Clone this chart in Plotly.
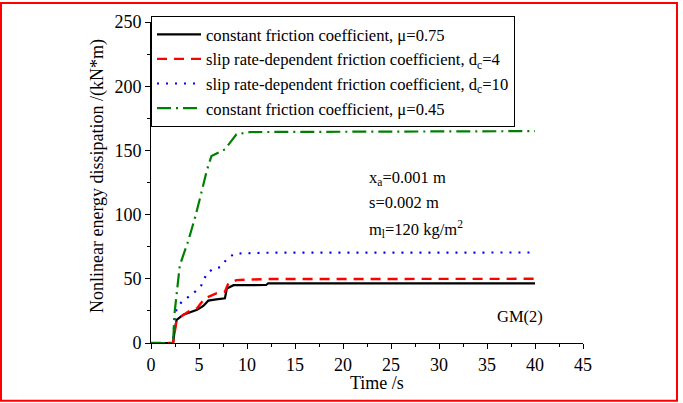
import plotly.graph_objects as go

# --- data ---
t_mu075 = [0, 2.3, 2.5, 2.67, 3.37, 3.9, 4.8, 5.45, 5.97, 6.8, 7.7, 7.9, 8.6, 12.0, 12.2, 40]
e_mu075 = [0, 0, 11.6, 18, 22, 23.2, 25.8, 28.9, 33, 34, 34.8, 42.5, 45, 45.2, 46.5, 46.5]

t_dc4 = [0, 2.3, 2.67, 3.0, 3.9, 4.8, 5.6, 6.8, 7.7, 8.05, 8.9, 12, 40]
e_dc4 = [0, 0, 18, 20, 24.5, 27, 34.8, 38.7, 40, 46.4, 49, 49.8, 50]

t_dc10 = [0, 2.3, 2.45, 2.67, 3.2, 3.9, 4.6, 5.25, 5.8, 6.5, 7.2, 7.95, 8.7, 12, 40]
e_dc10 = [0, 0, 18, 27, 32, 36, 40, 45, 54, 58, 59, 65.7, 69.6, 70.3, 70.5]

t_mu045 = [0, 2.3, 2.45, 2.67, 3.0, 3.9, 4.6, 5.3, 5.8, 6.3, 7.7, 8.9, 10.3, 40]
e_mu045 = [0, 0, 23, 40, 60.5, 80, 98, 118.6, 134, 145.7, 150.8, 162.5, 164.3, 165]

names = [
    "constant friction coefficient, \u03bc=0.75",
    "slip rate-dependent friction coefficient, d<sub>c</sub>=4",
    "slip rate-dependent friction coefficient, d<sub>c</sub>=10",
    "constant friction coefficient, \u03bc=0.45",
]

FONT = "Liberation Serif"

fig = go.Figure()
fig.add_trace(go.Scatter(x=t_mu075, y=e_mu075, mode="lines", name=names[0],
                         line=dict(color="black", width=2.2)))
fig.add_trace(go.Scatter(x=t_dc4, y=e_dc4, mode="lines", name=names[1],
                         line=dict(color="#ff0000", width=2.4, dash="10px,7px")))
fig.add_trace(go.Scatter(x=t_dc10, y=e_dc10, mode="lines", name=names[2],
                         line=dict(color="#0000ff", width=2.2, dash="2px,7px")))
fig.add_trace(go.Scatter(x=t_mu045, y=e_mu045, mode="lines", name=names[3],
                         line=dict(color="#008000", width=2.2, dash="14px,5px,2px,5px")))

L, R, T, B = 151, 100, 20, 60
W, H = 683, 403
pw, ph = W - L - R, H - T - B

def px2paper_x(px):
    return (px - L) / pw

def px2paper_y(py):
    return (H - B - py) / ph

fig.add_shape(type="rect", xref="paper", yref="paper",
              x0=px2paper_x(1), x1=px2paper_x(677), y0=px2paper_y(401), y1=px2paper_y(1),
              line=dict(color="#ff0000", width=2), fillcolor="rgba(0,0,0,0)", layer="above")

ann_font = dict(family=FONT, size=16.5, color="black")
fig.add_annotation(x=22.5, y=128.6, xref="x", yref="y", xanchor="left", yanchor="middle",
                   text="x<sub>a</sub>=0.001 m", showarrow=False, font=ann_font)
fig.add_annotation(x=22.5, y=109.5, xref="x", yref="y", xanchor="left", yanchor="middle",
                   text="s=0.002 m", showarrow=False, font=ann_font)
fig.add_annotation(x=22.5, y=89, xref="x", yref="y", xanchor="left", yanchor="middle",
                   text="m<sub>l</sub>=120 kg/m<sup>2</sup>", showarrow=False, font=ann_font)
fig.add_annotation(x=38.4, y=21, xref="x", yref="y", xanchor="center", yanchor="middle",
                   text="GM(2)", showarrow=False, font=ann_font)

# axis titles placed as annotations to match the reference offsets
fig.add_annotation(x=px2paper_x(377), y=px2paper_y(383), xref="paper", yref="paper",
                   xanchor="center", yanchor="middle", text="Time /s", showarrow=False,
                   font=dict(family=FONT, size=18, color="black"))
fig.add_annotation(x=px2paper_x(97), y=px2paper_y(175), xref="paper", yref="paper",
                   xanchor="center", yanchor="middle", textangle=-90,
                   text="Nonlinear energy dissipation /(kN*m)", showarrow=False,
                   font=dict(family=FONT, size=18, color="black"))

axis_common = dict(showline=True, linecolor="black", linewidth=1, mirror=False,
                   ticks="outside", ticklen=5, tickwidth=1, tickcolor="black",
                   showgrid=False, zeroline=False,
                   tickfont=dict(family=FONT, size=18, color="black"))

fig.update_xaxes(range=[0, 45], dtick=5, tick0=0,
                 minor=dict(dtick=2.5, ticks="outside", ticklen=3, tickcolor="black"),
                 **axis_common)
fig.update_yaxes(range=[0, 250], dtick=50, tick0=0,
                 minor=dict(dtick=25, ticks="outside", ticklen=3, tickcolor="black"),
                 **axis_common)

fig.update_layout(
    width=W, height=H,
    margin=dict(l=L, r=R, t=T, b=B),
    paper_bgcolor="white", plot_bgcolor="white",
    font=dict(family=FONT, color="black"),
    legend=dict(x=0, y=1 + 6 / ph, xanchor="left", yanchor="top",
                bgcolor="white", bordercolor="black", borderwidth=1,
                font=dict(family=FONT, size=16.6, color="black"),
                itemwidth=44, tracegroupgap=0),
    showlegend=True,
)

fig.write_html("out.html")
